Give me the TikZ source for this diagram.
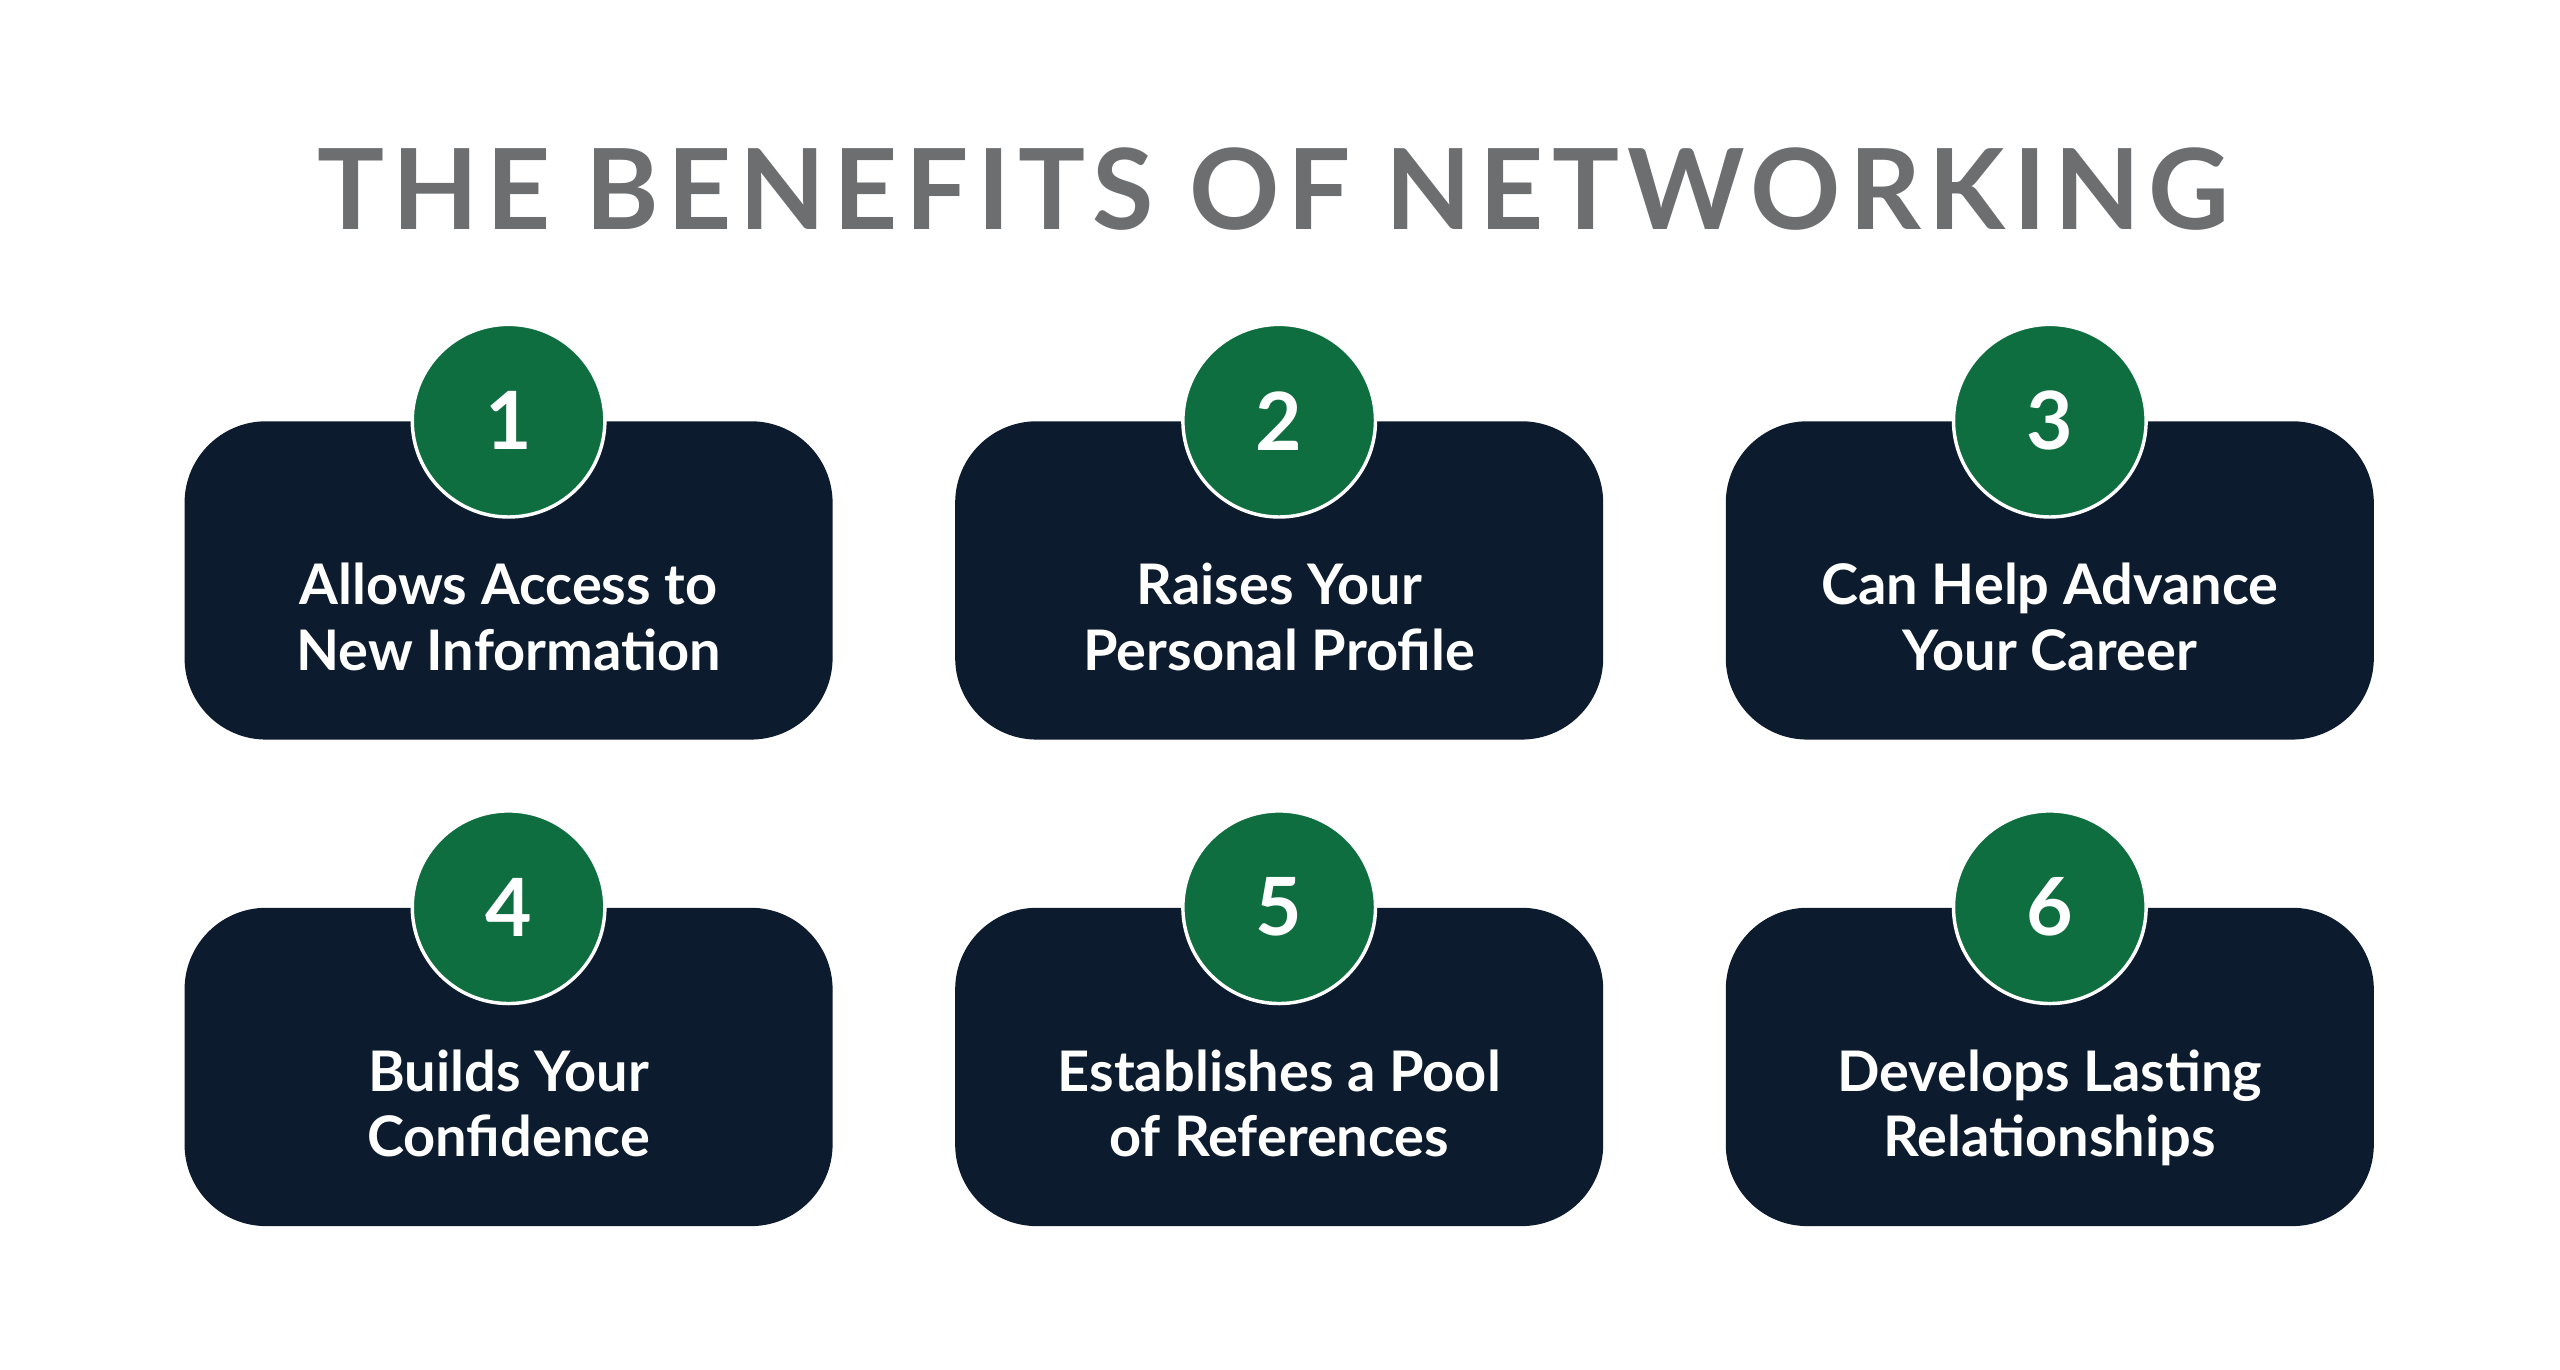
\documentclass[tikz,border=0pt]{standalone}
\usepackage{fontspec}
\setmainfont{Lato}
\newfontfamily\titlefont[LetterSpace=7]{Lato}
\usepackage{xcolor}
\definecolor{navy}{RGB}{13,27,46}
\definecolor{badgegreen}{RGB}{15,110,64}
\definecolor{titlegray}{RGB}{108,110,112}
\usetikzlibrary{calc}
\usetikzlibrary{positioning}
\newcommand{\widthcard}{7.94cm}
\newcommand{\heightcard}{3.9cm}
\newcommand{\twolines}[2]{\strut#1\\\strut#2}
\tikzset{
    card/.style={fill=navy, rectangle, rounded corners=1cm, minimum width=\widthcard, minimum height=\heightcard},
    badge/.style={circle, fill=badgegreen, draw=white, line width=1.2pt, minimum size=2.36cm, inner sep=0pt,
        text=white, font=\fontsize{28}{28}\selectfont\bfseries},
    cardtext/.style={text=white, align=center, font=\fontsize{19.5}{22.8}\selectfont\bfseries},
    headline/.style={text=titlegray, font=\fontsize{39}{39}\selectfont\titlefont\bfseries}
}
\begin{document}
\begin{tikzpicture}[x=0.02cm, y=-0.02cm]
    \useasboundingbox[fill=white] (0,0) rectangle (1568,839);
    \node[headline] (title) at (780,116) {THE BENEFITS OF NETWORKING};

    % row 1
    \node[card] (C1) at (311.5,355.5) {};
    \node[card] (C2) at (783.5,355.5) {};
    \node[card] (C3) at (1255.5,355.5) {};
    % row 2
    \node[card] (C4) at (311.5,653.5) {};
    \node[card] (C5) at (783.5,653.5) {};
    \node[card] (C6) at (1255.5,653.5) {};

    \foreach \i in {1,...,6}{
        \node[badge] (B\i) at (C\i.north) {\i};
    }

    \node[cardtext] (T1) at ($(C1.center)+(0,27)$) {\twolines{Allows Access to}{New Information}};
    \node[cardtext] (T2) at ($(C2.center)+(0,27)$) {\twolines{Raises Your}{Personal Profile}};
    \node[cardtext] (T3) at ($(C3.center)+(0,27)$) {\twolines{Can Help Advance}{Your Career}};
    \node[cardtext] (T4) at ($(C4.center)+(0,27)$) {\twolines{Builds Your}{Confidence}};
    \node[cardtext] (T5) at ($(C5.center)+(0,27)$) {\twolines{Establishes a Pool}{of References}};
    \node[cardtext] (T6) at ($(C6.center)+(0,27)$) {\twolines{Develops Lasting}{Relationships}};
\end{tikzpicture}
\end{document}
